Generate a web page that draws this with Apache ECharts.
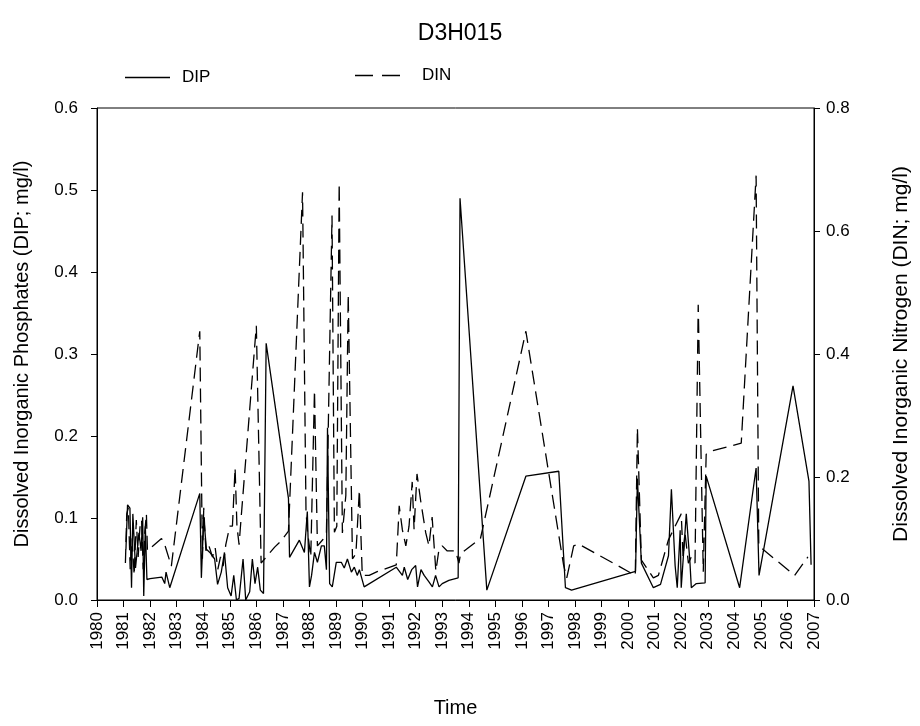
<!DOCTYPE html>
<html>
<head>
<meta charset="utf-8">
<script src="https://cdn.jsdelivr.net/npm/echarts@6/dist/echarts.min.js"></script>
<style>
  html, body { margin: 0; padding: 0; background: #fff; }
  #chart { width: 920px; height: 726px; }
</style>
</head>
<body>
<div id="chart"></div>
<script>
// Station D3H015: dissolved inorganic phosphates and nitrogen, 1981-2006

// DIP (mg/l), sampling dates as decimal years
const dipYears = [
  1981.09, 1981.15, 1981.24, 1981.30, 1981.35, 1981.45, 1981.58, 1981.66, 1981.72, 1981.76,
  1981.82, 1981.88, 1982.00, 1982.44, 1982.55, 1982.60, 1982.74, 1983.87, 1983.93, 1984.02,
  1984.12, 1984.25, 1984.43, 1984.54, 1984.68, 1984.80, 1984.92, 1985.05, 1985.15, 1985.25,
  1985.35, 1985.50, 1985.60, 1985.75, 1985.85, 1985.95, 1986.05, 1986.15, 1986.27, 1986.37,
  1987.21, 1987.25, 1987.62, 1987.81, 1987.92, 1988.00, 1988.08, 1988.19, 1988.30, 1988.45,
  1988.56, 1988.64, 1988.68, 1988.76, 1988.86, 1989.01, 1989.20, 1989.31, 1989.43, 1989.58,
  1989.69, 1989.80, 1989.88, 1990.06, 1991.27, 1991.32, 1991.50, 1991.57, 1991.70, 1991.85,
  1992.00, 1992.07, 1992.20, 1992.32, 1992.50, 1992.63, 1992.75, 1992.88, 1993.00, 1993.25,
  1993.60, 1993.67, 1994.68, 1996.15, 1997.39, 1997.64, 1997.87, 2000.28, 2000.35, 2000.50,
  2000.95, 2001.22, 2001.52, 2001.63, 2001.77, 2001.85, 2001.96, 2002.00, 2002.19, 2002.33,
  2002.38, 2002.57, 2002.90, 2002.94, 2004.20, 2004.82, 2004.93, 2006.21, 2006.81, 2006.89
];
const dipValues = [
  0.062, 0.116, 0.112, 0.015, 0.105, 0.039, 0.082, 0.060, 0.101, 0.005,
  0.090, 0.025, 0.026, 0.028, 0.020, 0.034, 0.015, 0.130, 0.027, 0.101,
  0.062, 0.058, 0.050, 0.019, 0.034, 0.058, 0.015, 0.005, 0.030, 0.000,
  0.002, 0.050, 0.000, 0.010, 0.050, 0.020, 0.040, 0.012, 0.008, 0.313,
  0.124, 0.052, 0.073, 0.058, 0.108, 0.016, 0.030, 0.058, 0.046, 0.066,
  0.066, 0.037, 0.210, 0.020, 0.016, 0.046, 0.046, 0.039, 0.050, 0.034,
  0.040, 0.030, 0.037, 0.016, 0.040, 0.042, 0.030, 0.040, 0.025, 0.037,
  0.042, 0.016, 0.037, 0.030, 0.022, 0.016, 0.030, 0.016, 0.020, 0.024,
  0.027, 0.490, 0.012, 0.151, 0.157, 0.015, 0.012, 0.035, 0.148, 0.045,
  0.015, 0.019, 0.054, 0.135, 0.042, 0.015, 0.085, 0.015, 0.105, 0.045,
  0.015, 0.020, 0.021, 0.151, 0.015, 0.161, 0.030, 0.261, 0.145, 0.043
];

// DIN (mg/l), sampling dates as decimal years
const dinYears = [
  1981.07, 1981.12, 1981.18, 1981.25, 1981.32, 1981.40, 1981.48, 1981.55, 1981.62, 1981.68,
  1981.74, 1981.80, 1981.86, 1981.90, 1982.43, 1982.55, 1982.80, 1983.87, 1983.97, 1984.02,
  1984.10, 1984.20, 1984.35, 1984.45, 1984.55, 1984.65, 1984.75, 1984.85, 1985.00, 1985.10,
  1985.20, 1985.27, 1985.35, 1985.43, 1986.00, 1986.18, 1986.69, 1986.93, 1987.21, 1987.74,
  1987.87, 1987.92, 1988.05, 1988.19, 1988.30, 1988.50, 1988.64, 1988.85, 1988.94, 1989.03,
  1989.12, 1989.24, 1989.37, 1989.46, 1989.62, 1989.75, 1989.88, 1989.99, 1990.25, 1990.55,
  1991.27, 1991.38, 1991.50, 1991.63, 1991.75, 1991.87, 1991.94, 1992.05, 1992.19, 1992.38,
  1992.50, 1992.62, 1992.76, 1992.88, 1993.00, 1993.18, 1993.50, 1993.63, 1993.69, 1994.44,
  1996.15, 1997.57, 1997.69, 1997.95, 1998.14, 2000.02, 2000.27, 2000.35, 2000.50, 2000.95,
  2001.14, 2001.52, 2002.00, 2002.07, 2002.14, 2002.27, 2002.38, 2002.52, 2002.64, 2002.83,
  2002.94, 2003.13, 2004.26, 2004.82, 2004.92, 2006.27, 2006.77
];
const dinValues = [
  0.060, 0.140, 0.150, 0.050, 0.100, 0.040, 0.130, 0.070, 0.120, 0.130,
  0.050, 0.110, 0.140, 0.080, 0.100, 0.090, 0.055, 0.437, 0.067, 0.150,
  0.080, 0.090, 0.070, 0.085, 0.050, 0.070, 0.055, 0.090, 0.120, 0.120,
  0.215, 0.120, 0.090, 0.135, 0.446, 0.060, 0.086, 0.096, 0.112, 0.663,
  0.145, 0.114, 0.070, 0.341, 0.088, 0.098, 0.110, 0.625, 0.110, 0.120,
  0.678, 0.109, 0.170, 0.497, 0.067, 0.075, 0.179, 0.040, 0.040, 0.046,
  0.057, 0.153, 0.114, 0.088, 0.120, 0.192, 0.115, 0.205, 0.161, 0.109,
  0.088, 0.135, 0.047, 0.083, 0.088, 0.080, 0.080, 0.060, 0.075, 0.100,
  0.437, 0.057, 0.036, 0.088, 0.091, 0.046, 0.040, 0.280, 0.065, 0.036,
  0.040, 0.098, 0.140, 0.070, 0.110, 0.060, 0.070, 0.060, 0.480, 0.046,
  0.237, 0.242, 0.255, 0.690, 0.088, 0.040, 0.070
];

const zip = (xs, ys) => xs.map((x, i) => [x, ys[i]]);

const FONT = '"Liberation Sans", Arial, sans-serif';

// legend keys: one solid stroke, and a broken stroke for the dashed series
const SOLID_KEY = 'path://M0 0H45V1.5H0Z';
const DASHED_KEY = 'path://M0 0H18V1.5H0Z M27 0H45V1.5H27Z';

const chart = echarts.init(document.getElementById('chart'), null, { renderer: 'canvas' });

chart.setOption({
  backgroundColor: '#ffffff',
  animation: false,
  title: {
    text: 'D3H015',
    left: 'center',
    top: 17,
    textStyle: { fontFamily: FONT, fontSize: 23, fontWeight: 'normal', color: '#000' }
  },
  legend: [
    {
      data: [{ name: 'DIP', icon: SOLID_KEY }], left: 120, top: 64,
      itemWidth: 45, itemHeight: 1.5, itemGap: 0, symbolKeepAspect: false,
      textStyle: { fontFamily: FONT, fontSize: 17, color: '#000', padding: [0, 0, 0, 7] }
    },
    {
      data: [{ name: 'DIN', icon: DASHED_KEY }], left: 350, top: 62,
      itemWidth: 45, itemHeight: 1.5, itemGap: 0, symbolKeepAspect: false,
      textStyle: { fontFamily: FONT, fontSize: 17, color: '#000', padding: [0, 0, 0, 17] }
    }
  ],
  grid: {
    left: 97, right: 104, top: 108, bottom: 126,
    show: true, borderColor: '#000', borderWidth: 1, backgroundColor: 'transparent'
  },
  xAxis: {
    type: 'value', min: 1980, max: 2007, interval: 1,
    name: 'Time', nameLocation: 'middle', nameGap: 98,
    nameTextStyle: { fontFamily: FONT, fontSize: 20, color: '#000' },
    axisLine: { show: true, lineStyle: { color: '#000', width: 1 } },
    axisTick: { show: true, length: 7, lineStyle: { color: '#000' } },
    axisLabel: {
      rotate: 90, margin: 12, fontFamily: FONT, fontSize: 17, color: '#000',
      formatter: v => String(v)
    },
    splitLine: { show: false }
  },
  yAxis: [
    {
      type: 'value', min: 0, max: 0.6, interval: 0.1, position: 'left',
      name: 'Dissolved Inorganic Phosphates (DIP; mg/l)', nameLocation: 'middle',
      nameRotate: 90, nameGap: 65,
      nameTextStyle: { fontFamily: FONT, fontSize: 20, color: '#000' },
      axisLine: { show: true, lineStyle: { color: '#000', width: 1 } },
      axisTick: { show: true, length: 6, lineStyle: { color: '#000' } },
      axisLabel: { margin: 19, fontFamily: FONT, fontSize: 17, color: '#000', formatter: v => v.toFixed(1) },
      splitLine: { show: false }
    },
    {
      type: 'value', min: 0, max: 0.8, interval: 0.2, position: 'right',
      name: 'Dissolved Inorganic Nitrogen (DIN; mg/l)', nameLocation: 'middle',
      nameRotate: 90, nameGap: 77,
      nameTextStyle: { fontFamily: FONT, fontSize: 21, color: '#000' },
      axisLine: { show: true, lineStyle: { color: '#000', width: 1 } },
      axisTick: { show: true, length: 6, lineStyle: { color: '#000' } },
      axisLabel: { margin: 12, fontFamily: FONT, fontSize: 17, color: '#000', formatter: v => v.toFixed(1) },
      splitLine: { show: false }
    }
  ],
  series: [
    {
      name: 'DIP', type: 'line', yAxisIndex: 0, symbol: 'none',
      data: zip(dipYears, dipValues),
      lineStyle: { color: '#000', width: 1.3, type: 'solid' },
      itemStyle: { color: '#000' }
    },
    {
      name: 'DIN', type: 'line', yAxisIndex: 1, symbol: 'none',
      data: zip(dinYears, dinValues),
      lineStyle: { color: '#000', width: 1.3, type: [14, 7] },
      itemStyle: { color: '#000' }
    }
  ]
});
</script>
</body>
</html>
